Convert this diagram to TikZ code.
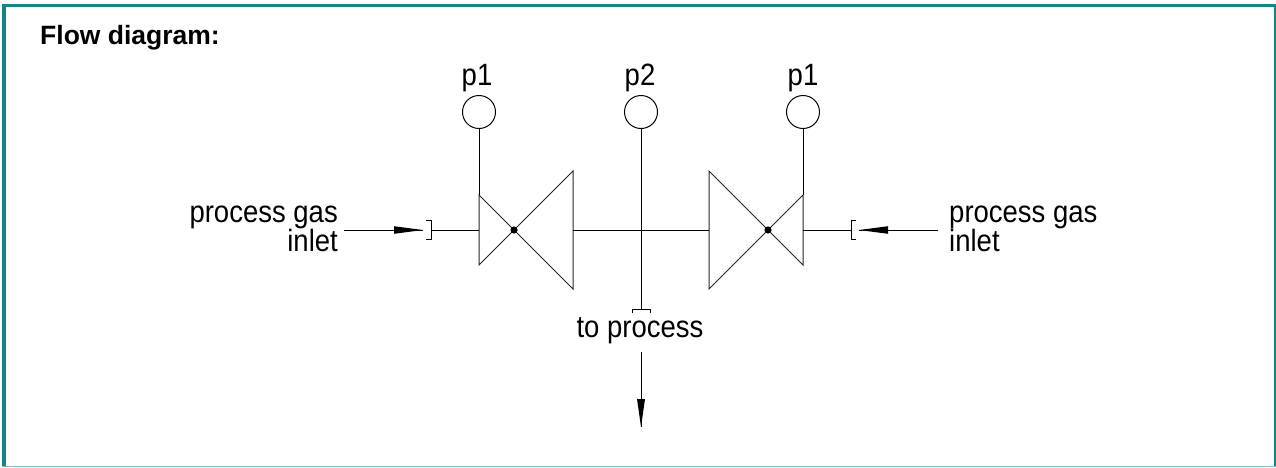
\documentclass[tikz,border=0pt]{standalone}
\usepackage{fontspec}
\setmainfont{Liberation Sans}
\usetikzlibrary{calc}
\definecolor{frameteal}{HTML}{148584}
\definecolor{framelight}{HTML}{80C0C0}
\newcommand{\tallfont}[1]{\scalebox{1}[1.12]{#1}}
\begin{document}
\begin{tikzpicture}[x=1pt,y=-1pt,
  pipe/.style={line width=1pt,black},
  valvebody/.style={line width=1pt,black!85},
  gauge/.style={circle,draw,line width=1pt,minimum size=33pt,inner sep=0pt},
  lbl/.style={font=\fontsize{27.5}{29}\selectfont,inner sep=0pt},
  tipfill/.style={fill=black}]
\path[use as bounding box] (0,0) rectangle (1276,467);
% frame
\fill[frameteal] (2,4) rectangle (6,466);
\fill[frameteal] (2,4) rectangle (1276,7);
\fill[frameteal] (1274,4) rectangle (1276,467);
\fill[framelight] (2,465.5) rectangle (1276,467);
% title
\node[anchor=base west,inner sep=0pt,font=\bfseries\fontsize{26.5}{30}\selectfont] (title) at (40,44) {Flow diagram:};
% gauges
\node[gauge] (g1) at (479,112) {};
\node[gauge] (g2) at (641,112) {};
\node[gauge] (g3) at (803,112) {};
\node[lbl,anchor=base] (p1l) at (477,85) {\tallfont{p1}};
\node[lbl,anchor=base] (p2m) at (640,85) {\tallfont{p2}};
\node[lbl,anchor=base] (p1r) at (803,85) {\tallfont{p1}};
% valve centres and ports
\coordinate (v1) at (514,230);
\coordinate (v2) at (768,230);
\coordinate (v1in) at (479,230);
\coordinate (v1top) at (479,195);
\coordinate (v1out) at (573,230);
\coordinate (v2out) at (709,230);
\coordinate (v2in) at (803,230);
\coordinate (v2top) at (803,195);
% valve bodies
\draw[valvebody,shift={(v1)}] (-35,-35) -- (-35,35) -- (59,-59) -- (59,59) -- cycle;
\draw[valvebody,shift={(v2)}] (35,-35) -- (35,35) -- (-59,-59) -- (-59,59) -- cycle;
\fill (v1) circle (3.6);
\fill (v2) circle (3.6);
% gauge lines
\draw[pipe] (g1.south) -- (v1top);
\draw[pipe] (g3.south) -- (v2top);
\coordinate (tee) at (641,309);
\draw[pipe] (g2.south) -- (tee);
% main pipe
\draw[pipe] (v1out) -- (v2out);
% left inlet
\coordinate (b1) at (431,230);
\coordinate (a1s) at (344,230);
\coordinate (a1t) at (423,230);
\draw[pipe] (b1) -- (v1in);
\draw[pipe] ($(b1)+(-5,-9.5)$) -- ++(5,0) -- ++(0,19) -- ++(-5,0);
\draw[pipe] (a1s) -- (a1t);
\fill[tipfill] (a1t) -- ++(-29,-3.8) -- ++(0,7.6) -- cycle;
% right inlet
\coordinate (b2) at (851,230);
\coordinate (a2s) at (938,230);
\coordinate (a2t) at (859,230);
\draw[pipe] (v2in) -- (b2);
\draw[pipe] ($(b2)+(5,-9.5)$) -- ++(-5,0) -- ++(0,19) -- ++(5,0);
\draw[pipe] (a2s) -- (a2t);
\fill[tipfill] (a2t) -- ++(29,-3.8) -- ++(0,7.6) -- cycle;
% outlet
\draw[pipe] ($(tee)+(-9,4)$) -- ++(0,-4) -- ++(18,0) -- ++(0,4);
\node[lbl,anchor=base] (toproc) at (640,337.7) {\tallfont{to process}};
\coordinate (o1s) at (641,352);
\coordinate (o1t) at (641,427);
\draw[pipe] (o1s) -- (o1t);
\fill[tipfill] (o1t) -- ++(-4,-28) -- ++(8,0) -- cycle;
% inlet labels
\node[lbl,anchor=base east] (inl1) at (338,222) {\tallfont{process gas}};
\node[lbl,anchor=base east] (inl2) at (338,251) {\tallfont{inlet}};
\node[lbl,anchor=base west] (inr1) at (949,222) {\tallfont{process gas}};
\node[lbl,anchor=base west] (inr2) at (949,251) {\tallfont{inlet}};
\end{tikzpicture}
\end{document}
